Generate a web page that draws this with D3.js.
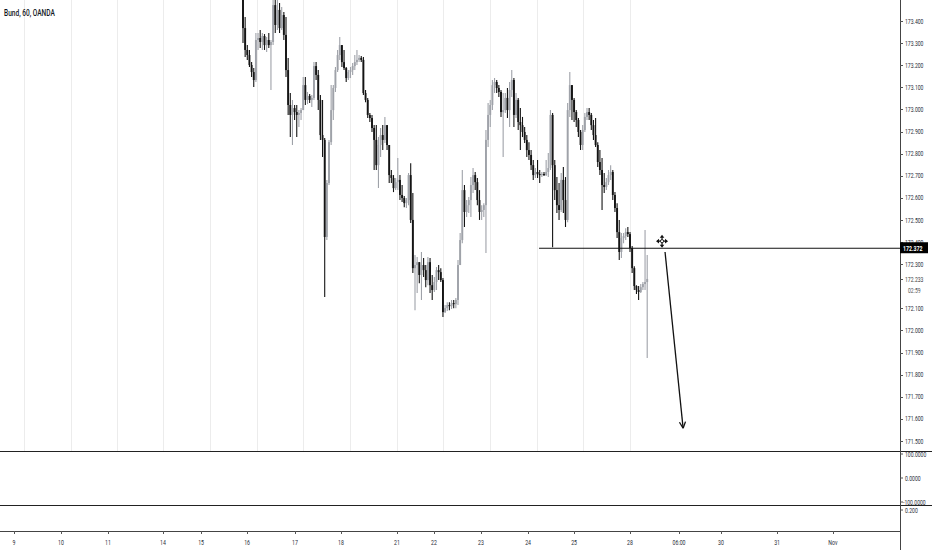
<!DOCTYPE html>
<html><head><meta charset="utf-8">
<script src="https://cdn.jsdelivr.net/npm/d3@7"></script>
<style>body{margin:0;background:#fff}svg{display:block}text{font-family:Roboto,"Noto Sans",sans-serif}</style>
</head><body><svg id="c" width="932" height="550"></svg>
<script>
const title = "Bund, 60, OANDA";
const closes = [173.368,173.269,173.246,173.201,173.169,173.133,173.314,173.323,173.305,173.332,
173.291,173.314,173.291,173.305,173.472,173.382,173.450,173.368,173.427,173.337,
173.178,173.020,172.975,173.006,172.988,172.975,172.984,172.997,173.110,173.043,
173.061,173.043,173.052,173.196,173.156,173.043,172.884,172.862,172.423,172.667,
172.852,172.997,173.097,173.178,173.246,173.291,173.214,173.187,173.142,173.169,
173.178,173.196,173.214,173.224,173.233,173.224,173.074,173.043,172.975,172.961,
172.916,172.862,172.748,172.839,172.884,172.862,172.929,172.839,172.703,172.690,
172.644,172.671,172.681,172.613,172.599,172.576,172.590,172.703,172.500,172.282,
172.296,172.309,172.251,172.296,172.273,172.228,172.309,172.205,172.183,172.219,
172.273,172.264,172.228,172.083,172.101,172.115,172.110,172.124,172.119,172.138,
172.296,172.409,172.635,172.536,172.567,172.590,172.658,172.703,172.671,172.590,
172.536,172.545,172.567,172.862,172.975,173.020,173.110,173.124,173.097,173.079,
172.988,172.997,173.052,172.997,173.088,173.133,172.975,173.043,172.943,172.929,
172.898,172.862,172.816,172.794,172.748,172.703,172.717,172.708,172.703,172.708,
172.703,172.717,172.735,172.975,172.748,172.635,172.567,172.545,172.681,172.590,
172.500,172.997,173.110,173.043,172.988,172.952,172.898,172.839,172.907,172.966,
172.988,172.975,172.929,172.884,172.839,172.762,172.726,172.658,172.649,172.671,
172.703,172.717,172.613,172.554,172.445,172.355,172.418,172.427,172.445,172.436,
172.373,172.282,172.201,172.183,172.174,172.196,172.210,172.219,172.233];
const opens = [173.518,
173.368,173.269,173.246,173.201,173.169,173.133,173.314,173.323,173.305,173.332,
173.291,173.314,173.291,173.305,173.472,173.382,173.450,173.368,173.427,173.337,
173.178,173.020,172.975,173.006,172.988,172.975,172.984,172.997,173.110,173.043,
173.061,173.043,173.052,173.196,173.156,173.043,172.884,172.862,172.423,172.667,
172.852,172.997,173.097,173.178,173.246,173.291,173.214,173.187,173.142,173.169,
173.178,173.196,173.214,173.224,173.233,173.224,173.074,173.043,172.975,172.961,
172.916,172.862,172.748,172.839,172.884,172.862,172.929,172.839,172.703,172.690,
172.644,172.671,172.681,172.613,172.599,172.576,172.590,172.703,172.500,172.282,
172.296,172.309,172.251,172.296,172.273,172.228,172.309,172.205,172.183,172.219,
172.273,172.264,172.228,172.083,172.101,172.115,172.110,172.124,172.119,172.138,
172.296,172.409,172.635,172.536,172.567,172.590,172.658,172.703,172.671,172.590,
172.536,172.545,172.567,172.862,172.975,173.020,173.110,173.124,173.097,173.079,
172.988,172.997,173.052,172.997,173.088,173.133,172.975,173.043,172.943,172.929,
172.898,172.862,172.816,172.794,172.748,172.703,172.717,172.708,172.703,172.708,
172.703,172.717,172.735,172.975,172.748,172.635,172.567,172.545,172.681,172.590,
172.500,172.997,173.110,173.043,172.988,172.952,172.898,172.839,172.907,172.966,
172.988,172.975,172.929,172.884,172.839,172.762,172.726,172.658,172.649,172.671,
172.703,172.717,172.613,172.554,172.445,172.355,172.418,172.427,172.445,172.436,
172.373,172.282,172.201,172.183,172.174,172.196,172.210,172.219];
const highs = [173.540,173.418,173.291,173.269,173.214,173.187,173.346,173.346,173.359,173.346,
173.341,173.328,173.346,173.314,173.540,173.540,173.495,173.481,173.463,173.441,
173.418,173.233,173.074,173.043,173.020,173.020,172.997,173.006,173.147,173.147,
173.079,173.070,173.065,173.214,173.214,173.178,173.065,173.043,172.871,172.681,
172.862,173.110,173.110,173.192,173.269,173.328,173.291,173.269,173.192,173.178,
173.192,173.210,173.246,173.269,173.246,173.242,173.237,173.088,173.052,172.984,
172.975,172.929,172.929,172.875,172.916,172.929,172.966,172.929,172.839,172.726,
172.703,172.690,172.780,172.703,172.658,172.608,172.599,172.712,172.757,172.622,
172.341,172.332,172.309,172.355,172.328,172.296,172.332,172.328,172.251,172.242,
172.287,172.296,172.282,172.237,172.115,172.128,172.128,172.138,172.138,172.147,
172.319,172.441,172.726,172.658,172.590,172.604,172.694,172.735,172.717,172.690,
172.635,172.567,172.576,172.907,173.029,173.043,173.133,173.142,173.133,173.110,
173.088,173.074,173.074,173.097,173.124,173.178,173.142,173.074,173.052,173.006,
172.966,172.920,172.884,172.852,172.816,172.771,172.735,172.771,172.726,172.717,
172.717,172.771,172.803,172.997,172.984,172.771,172.694,172.667,172.712,172.739,
172.694,173.029,173.169,173.110,173.052,172.997,172.961,172.907,172.929,172.984,
173.006,173.006,172.984,172.952,172.961,172.852,172.816,172.780,172.712,172.690,
172.726,172.748,172.726,172.626,172.576,172.500,172.441,172.441,172.463,172.468,
172.445,172.382,172.291,172.205,172.201,172.210,172.219,172.454,172.341];
const lows = [173.300,173.237,173.224,173.192,173.147,173.101,173.124,173.269,173.278,173.269,
173.269,173.260,173.278,173.088,173.291,173.346,173.359,173.346,173.359,173.314,
173.147,172.975,172.875,172.839,172.952,172.875,172.920,172.952,172.997,173.020,
173.024,173.029,173.011,173.043,173.133,172.997,172.862,172.785,172.151,172.409,
172.658,172.839,172.952,173.079,173.169,173.224,173.192,173.178,173.124,173.133,
173.142,173.156,173.178,173.201,173.214,173.214,173.065,173.033,172.961,172.943,
172.898,172.726,172.726,172.644,172.785,172.816,172.848,172.816,172.667,172.667,
172.626,172.635,172.635,172.590,172.581,172.558,172.554,172.567,172.486,172.260,
172.092,172.169,172.214,172.138,172.242,172.196,172.205,172.169,172.138,172.174,
172.183,172.228,172.219,172.061,172.079,172.088,172.092,172.097,172.101,172.101,
172.115,172.296,172.395,172.468,172.513,172.531,172.513,172.622,172.635,172.567,
172.500,172.500,172.513,172.350,172.830,172.920,172.997,173.074,173.074,173.056,
172.966,172.785,172.984,172.961,172.920,173.056,172.920,172.961,172.907,172.816,
172.875,172.848,172.785,172.771,172.726,172.681,172.690,172.690,172.667,172.694,
172.699,172.699,172.694,172.726,172.377,172.590,172.531,172.500,172.536,172.531,
172.468,172.490,172.966,172.952,172.943,172.920,172.875,172.816,172.816,172.898,
172.952,172.952,172.907,172.862,172.830,172.739,172.703,172.545,172.622,172.635,
172.658,172.681,172.590,172.536,172.418,172.319,172.328,172.395,172.409,172.423,
172.355,172.260,172.183,172.165,172.138,172.169,172.183,172.183,171.875];

const priceTicks = [171.5,171.6,171.7,171.8,171.9,172.0,172.1,172.3,172.4,172.5,172.6,172.7,172.8,172.9,173.0,173.1,173.2,173.3,173.4];
const dayLabels = ["9","10","11","14","15","16","17","18","21","22","23","24","25","28","06:00","30","31","Nov"];
const dayLabelIdx = [-106.5,-84.7,-62.8,-37.2,-19.5,1.9,24.2,45.6,71.6,88.8,110.7,132.6,154,180,202.8,222.3,248.4,274.4];
const gridIdx = [-102,-80.2,-58.6,-37,-15.2,6.5,28.1,49.8,71.5,93.2,114.9,136.6,158.2,180];
const levelPrice = 172.372;
const levelStartIdx = 137.7;
const lastPrice = 172.233;
const countdown = "02:59";
const oscValues = [100, 0, -100];
const oscLabels = ["100.0000","0.0000","-100.0000"];
const volLabel = "0.200";
const arrowFrom = [196.3, 172.355], arrowTo = [204.7, 171.558];
const moveIcon = [194.9, 172.404];

const svg = d3.select('#c');
const AX = 900;
const x = d3.scaleLinear().domain([0, closes.length-1]).range([243, 243 + (closes.length-1)*2.15]);
const y = d3.scaleLinear().domain([171.5, 173.4]).range([441, 21]);
const yOsc = d3.scaleLinear().domain([-100, 100]).range([502, 454]);
const SQ = 0.67;
const ink = '#2a2e39';

function txt(g, s, px, py, size, fill, anchor, weight) {
  return g.append('text').attr('transform', `translate(${px},${py}) scale(${SQ},1)`)
    .attr('font-size', size).attr('fill', fill).attr('text-anchor', anchor || 'start')
    .attr('font-weight', weight || 400).text(s);
}

// grid
svg.append('g').selectAll('line').data(gridIdx).join('line')
  .attr('x1', d => Math.round(x(d)) + 0.5).attr('x2', d => Math.round(x(d)) + 0.5)
  .attr('y1', 0).attr('y2', 451).attr('stroke', '#ececec').attr('stroke-width', 1);

// candles
svg.append('clipPath').attr('id', 'cp').append('rect').attr('x', 0).attr('y', 0).attr('width', AX).attr('height', 451);
const cg = svg.append('g').attr('clip-path', 'url(#cp)');
const bars = closes.map((c, i) => ({i, o: opens[i], h: highs[i], l: lows[i], c}));
const col = d => d.c >= d.o ? '#9fa2a9' : '#141414';
cg.selectAll('line.w').data(bars).join('line').attr('class', 'w')
  .attr('x1', d => x(d.i)).attr('x2', d => x(d.i))
  .attr('y1', d => y(d.h)).attr('y2', d => y(d.l))
  .attr('stroke', col).attr('stroke-width', 1.1);
cg.selectAll('rect.b').data(bars).join('rect').attr('class', 'b')
  .attr('x', d => x(d.i) - 0.95).attr('width', 1.9)
  .attr('y', d => y(Math.max(d.o, d.c)))
  .attr('height', d => Math.max(1, Math.abs(y(d.o) - y(d.c))))
  .attr('fill', col);

// horizontal level
svg.append('line').attr('x1', x(levelStartIdx)).attr('x2', AX).attr('y1', y(levelPrice)).attr('y2', y(levelPrice))
  .attr('stroke', '#111').attr('stroke-width', 1.1);

// arrow
const ax1 = x(arrowFrom[0]), ay1 = y(arrowFrom[1]), ax2 = x(arrowTo[0]), ay2 = y(arrowTo[1]);
svg.append('line').attr('x1', ax1).attr('y1', ay1).attr('x2', ax2).attr('y2', ay2).attr('stroke', '#111').attr('stroke-width', 1.3);
const ang = Math.atan2(ay2 - ay1, ax2 - ax1);
[0.45, -0.45].forEach(da => {
  svg.append('line').attr('x1', ax2).attr('y1', ay2)
    .attr('x2', ax2 - 7 * Math.cos(ang + da)).attr('y2', ay2 - 7 * Math.sin(ang + da))
    .attr('stroke', '#111').attr('stroke-width', 1.3);
});

// move icon
const mx = x(moveIcon[0]), my = y(moveIcon[1]);
const mg = svg.append('g').attr('transform', `translate(${mx},${my})`);
mg.append('path').attr('d', 'M0,-5V5M-5,0H5').attr('stroke', '#111').attr('stroke-width', 1.2);
mg.append('path').attr('d', 'M0,-6.5L-2.3,-3.5H2.3Z M0,6.5L-2.3,3.5H2.3Z M-6,0L-3,-2.3V2.3Z M6,0L3,-2.3V2.3Z').attr('fill', '#111');
mg.append('circle').attr('r', 1.6).attr('fill', '#fff').attr('stroke', '#111').attr('stroke-width', 0.9);

// title
txt(svg, title, 4, 15.5, 9.8, '#131722', 'start', 500);

// pane separators and axes
svg.append('line').attr('x1', 0).attr('x2', 932).attr('y1', 451.5).attr('y2', 451.5).attr('stroke', '#222').attr('stroke-width', 1.2);
svg.append('line').attr('x1', 0).attr('x2', 932).attr('y1', 505.5).attr('y2', 505.5).attr('stroke', '#222').attr('stroke-width', 1.2);
svg.append('line').attr('x1', 0).attr('x2', AX).attr('y1', 531.5).attr('y2', 531.5).attr('stroke', '#444').attr('stroke-width', 1);
svg.append('line').attr('x1', AX + 0.5).attr('x2', AX + 0.5).attr('y1', 0).attr('y2', 550).attr('stroke', '#444').attr('stroke-width', 1);

// right price axis
const ra = svg.append('g');
svg.append('clipPath').attr('id', 'lblclip').append('rect').attr('x', AX).attr('y', 0).attr('width', 32).attr('height', y(levelPrice) - 6);
priceTicks.forEach(p => {
  ra.append('line').attr('x1', AX).attr('x2', AX + 3).attr('y1', Math.round(y(p)) + 0.5).attr('y2', Math.round(y(p)) + 0.5).attr('stroke', '#555');
  const t = txt(ra, p.toFixed(3), AX + 5, y(p) + 2.6, 7.6, ink);
  if (Math.abs(y(p) - y(levelPrice)) < 9) t.attr('clip-path', null);
});
// last price
ra.append('line').attr('x1', AX).attr('x2', AX + 3).attr('y1', Math.round(y(lastPrice)) + 0.5).attr('y2', Math.round(y(lastPrice)) + 0.5).attr('stroke', '#555');
txt(ra, lastPrice.toFixed(3), AX + 5, y(lastPrice) + 2.6, 7.6, '#444');
txt(ra, countdown, AX + 8, y(lastPrice) + 14, 7.6, '#555');
// level label box
ra.append('rect').attr('x', AX).attr('y', y(levelPrice) - 6).attr('width', 28).attr('height', 11).attr('fill', '#000');
txt(ra, levelPrice.toFixed(3), AX + 3, y(levelPrice) + 2.7, 7.8, '#fff', 'start', 700);

// oscillator pane labels
oscValues.forEach((v, k) => {
  ra.append('line').attr('x1', AX).attr('x2', AX + 3).attr('y1', yOsc(v)).attr('y2', yOsc(v)).attr('stroke', '#555');
  txt(ra, oscLabels[k], AX + (v < 0 ? 3 : 5), yOsc(v) + 2.6, 7.6, ink);
});
ra.append('line').attr('x1', AX).attr('x2', AX + 3).attr('y1', 510).attr('y2', 510).attr('stroke', '#555');
txt(ra, volLabel, AX + 5, 512.6, 7.6, ink);

// bottom time axis
const ba = svg.append('g');
dayLabels.forEach((s, k) => {
  const px = x(dayLabelIdx[k]);
  ba.append('line').attr('x1', Math.round(px) + 0.5).attr('x2', Math.round(px) + 0.5).attr('y1', 531).attr('y2', 534).attr('stroke', '#555');
  txt(ba, s, px, 544.5, 7.8, ink, 'middle');
});
</script></body></html>
